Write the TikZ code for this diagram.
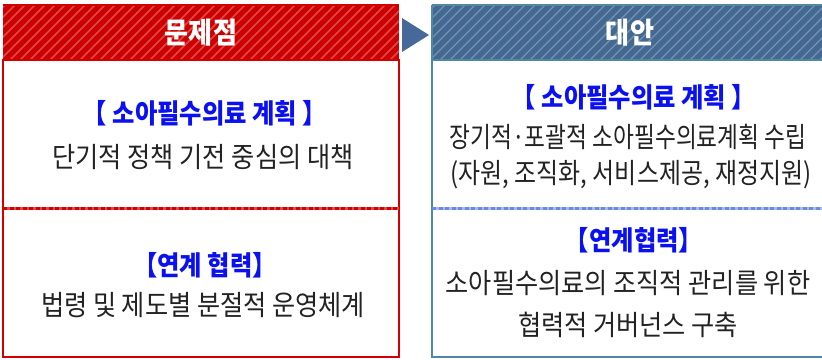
\documentclass[tikz,border=0pt]{standalone}
\usepackage{fontspec}
\setmainfont[FakeStretch=0.9]{Noto Sans CJK KR}
\newfontfamily\hdfont[FakeStretch=0.9]{Noto Sans CJK KR}
\definecolor{redmain}{HTML}{CC0000}
\definecolor{redstripe}{HTML}{E04848}
\definecolor{redline}{HTML}{D40000}
\definecolor{bluemain}{HTML}{44688F}
\definecolor{bluestripe}{HTML}{7393B8}
\definecolor{blueline}{HTML}{5088A2}
\definecolor{bluedash}{HTML}{6A8ADC}
\definecolor{tricol}{HTML}{46699A}
\definecolor{titleblue}{HTML}{0A10F0}
\definecolor{bodytext}{HTML}{222222}
\tikzset{
  x=1pt,y=1pt,
  bluetitle/.style={text=titleblue,font=\fontsize{27}{31}\selectfont\bfseries,inner sep=0pt},
  bodyline/.style={text=bodytext,font=\fontsize{28}{32}\selectfont,inner sep=0pt},
  headtext/.style={text=white,font=\hdfont\fontsize{29}{33}\selectfont\bfseries,inner sep=0pt},
}
\begin{document}
\begin{tikzpicture}
\useasboundingbox (0,0) rectangle (822,359);
% ---- left header
\begin{scope}
\clip (3,299) rectangle (399,354);
\fill[redmain] (3,299) rectangle (399,354);
\foreach \i in {-60,-50,...,420}
  \draw[redstripe,line width=1.6pt] (\i,299) -- (\i+55,354);
\end{scope}
\draw[redline,line width=2.2pt] (3,354) -- (399,354);
% ---- left box
\draw[redline,line width=2.5pt] (3,299) rectangle (399,2);
\draw[redstripe,line width=3pt] (3,150) -- (399,150);
\draw[redline,line width=3pt,dash pattern=on 4pt off 2.5pt] (3,150) -- (399,150);
\node[headtext] (h1) at (201,326) {문제점};
% ---- triangle
\fill[tricol] (402,341) -- (429,324) -- (402,307) -- cycle;
% ---- right header
\begin{scope}
\clip (432,299) rectangle (830,354);
\fill[bluemain] (432,299) rectangle (830,354);
\foreach \i in {380,390,...,840}
  \draw[bluestripe,line width=1.4pt] (\i,299) -- (\i+55,354);
\end{scope}
\draw[blueline,line width=2.2pt] (432,354) -- (830,354);
\draw[blueline,line width=2.5pt] (432,299) -- (830,299);
\draw[blueline,line width=2.5pt] (432,354) -- (432,2) -- (830,2);
\draw[bluedash!60,line width=3pt] (432,150) -- (830,150);
\draw[bluedash,line width=3pt,dash pattern=on 4pt off 2.5pt] (432,150) -- (830,150);
\draw[redline,line width=2.5pt] (3,299) -- (399,299);
\node[headtext] (h2) at (630,326) {대안};
% ---- left texts
\node[bluetitle] (l1) at (205,246) {【 소아필수의료 계획 】};
\node[bodyline] (l2) at (203,202) {단기적 정책 기전 중심의 대책};
\node[bluetitle] (l3) at (205,94) {【연계 협력】};
\node[bodyline] (l4) at (203,54) {법령 및 제도별 분절적 운영체계};
% ---- right texts
\node[bluetitle] (r1) at (634,262) {【 소아필수의료 계획 】};
\node[bodyline] (r2) at (628,222) {\scalebox{0.9}[1]{장기적·포괄적 소아필수의료계획 수립}};
\node[bodyline] (r3) at (631,184) {\scalebox{0.95}[1]{(자원, 조직화, 서비스제공, 재정지원)}};
\node[bluetitle] (r4) at (634,119) {【연계협력】};
\node[bodyline] (r5) at (628,76) {소아필수의료의 조직적 관리를 위한};
\node[bodyline] (r6) at (628,34) {협력적 거버넌스 구축};
\end{tikzpicture}
\end{document}
